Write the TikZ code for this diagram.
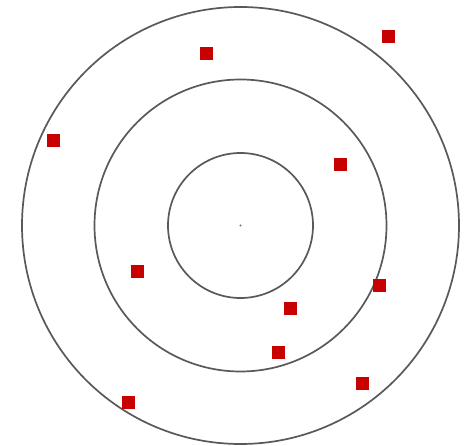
\documentclass[tikz,border=0pt]{standalone}
\begin{document}
\begin{tikzpicture}[x=1pt,y=-1pt,
  ring/.style={draw=black!65,line width=1.7pt},
  pt/.style={fill=red!78!black,minimum size=13pt,inner sep=0pt,draw=none,rectangle}]
\useasboundingbox (0,0) rectangle (469,446);
\fill[white] (0,0) rectangle (469,446);
\coordinate (c) at (240.5,225.5);
\draw[ring] (c) circle[radius=72.5];
\draw[ring] (c) circle[radius=146];
\draw[ring] (c) circle[radius=218.5];
\fill[black!55] (c) circle[radius=1.2];
\node[pt] (p1) at (388,37) {};
\node[pt] (p2) at (206,54) {};
\node[pt] (p3) at (53,141) {};
\node[pt] (p4) at (340,165) {};
\node[pt] (p5) at (137,272) {};
\node[pt] (p6) at (379,286) {};
\node[pt] (p7) at (290,309) {};
\node[pt] (p8) at (278,353) {};
\node[pt] (p9) at (362,384) {};
\node[pt] (p10) at (128,403) {};
\end{tikzpicture}
\end{document}
